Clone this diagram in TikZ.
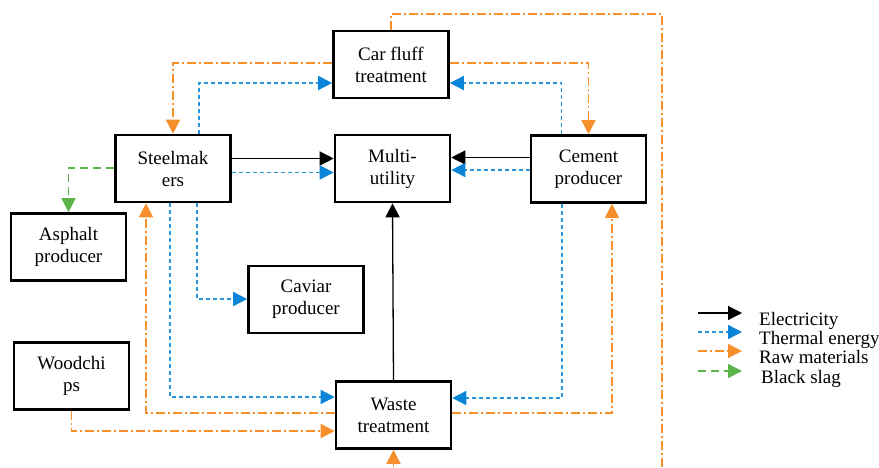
\documentclass[tikz,border=0pt]{standalone}
\usepackage{fontspec}
\setmainfont{Liberation Serif}
\usetikzlibrary{arrows.meta}
\definecolor{rawc}{RGB}{247,143,45}
\definecolor{thermc}{RGB}{40,150,220}
\definecolor{thermtip}{RGB}{10,132,214}
\definecolor{slagc}{RGB}{92,180,75}
\begin{document}
\begin{tikzpicture}[x=1pt,y=-1pt,
  box/.style={draw,line width=2.6pt,minimum width=115pt,minimum height=67pt,align=center,inner sep=2pt,font=\fontsize{19}{22}\selectfont},
  elec/.style={line width=1.3pt,-{Triangle[length=14pt,width=14pt]}},
  therm/.style={thermc,line width=1.5pt,dash pattern=on 4pt off 3pt,-{Triangle[length=14pt,width=14pt,color=thermtip]}},
  raw/.style={rawc,line width=1.4pt,dash pattern=on 9pt off 3pt on 2pt off 3pt,-{Triangle[length=14pt,width=14pt]}},
  slag/.style={slagc,line width=1.4pt,dash pattern=on 8pt off 5pt,-{Triangle[length=14pt,width=14pt]}},
  lab/.style={anchor=base west,inner sep=0pt,font=\fontsize{19}{22}\selectfont}]
\useasboundingbox (0,0) rectangle (879,467);
\clip (0,0) rectangle (879,467);
% nodes
\node[box] (car) at (391,64.5) {Car fluff\\treatment};
\node[box] (steel) at (173,168.5) {Steelmak\\ers};
\node[box] (multi) at (392.5,168.5) {Multi-\\utility};
\node[box] (cement) at (588.5,169) {Cement\\producer};
\node[box] (asphalt) at (68.5,247) {Asphalt\\producer};
\node[box] (caviar) at (306,299.5) {Caviar\\producer};
\node[box] (wood) at (71.5,376) {Woodchi\\ps};
\node[box] (waste) at (393.5,415) {Waste\\treatment};
\coordinate (farR) at (662,14);
\coordinate (farB) at (662,490);
% connectors
\draw[elec] ([yshift=10pt]steel.east) -- ([yshift=10pt]steel.east -| multi.west);
\draw[therm] ([yshift=-4pt]steel.east) -- ([yshift=-4pt]steel.east -| multi.west);
\draw[elec] ([yshift=11.5pt]cement.west) -- ([yshift=11.5pt]cement.west -| multi.east);
\draw[therm] ([yshift=-1pt]cement.west) -- ([yshift=-1pt]cement.west -| multi.east);
\draw[elec] (waste.north) -- (multi.south);
\draw[therm] ([xshift=26pt]steel.north) |- ([yshift=-18.5pt]car.west);
\draw[raw] ([yshift=1.5pt]car.west) -| (steel.north);
\draw[raw] ([yshift=1.5pt]car.east) -| (cement.north);
\draw[therm] ([xshift=-27pt]cement.north) |- ([yshift=-18.5pt]car.east);
\draw[raw] (car.north) |- (farR) -- (farB) -| (waste.south);
\draw[therm] ([xshift=24pt]steel.south) |- ([yshift=0.5pt]caviar.west);
\draw[therm] ([xshift=-3pt]steel.south) |- ([yshift=18pt]waste.west);
\draw[raw] ([yshift=2pt]waste.west) -| ([xshift=-27pt]steel.south);
\draw[raw] (wood.south) |- ([yshift=-16pt]waste.west);
\draw[therm] ([xshift=-26.5pt]cement.south) |- ([yshift=17pt]waste.east);
\draw[raw] ([yshift=2pt]waste.east) -| ([xshift=23.5pt]cement.south);
\draw[slag] ([yshift=0.5pt]steel.west) -| (asphalt.north);
% legend
\coordinate (l1a) at (698,313); \coordinate (l1b) at (742,313);
\coordinate (l2a) at (698,332); \coordinate (l2b) at (742,332);
\coordinate (l3a) at (698,351); \coordinate (l3b) at (742,351);
\coordinate (l4a) at (698,371); \coordinate (l4b) at (742,371);
\draw[elec] (l1a) -- (l1b);
\draw[therm] (l2a) -- (l2b);
\draw[raw] (l3a) -- (l3b);
\draw[slag] (l4a) -- (l4b);
\node[lab] (t1) at (759,325) {Electricity};
\node[lab] (t2) at (759,344) {Thermal energy};
\node[lab] (t3) at (759,363) {Raw materials};
\node[lab] (t4) at (761,383) {Black slag};
\end{tikzpicture}
\end{document}
